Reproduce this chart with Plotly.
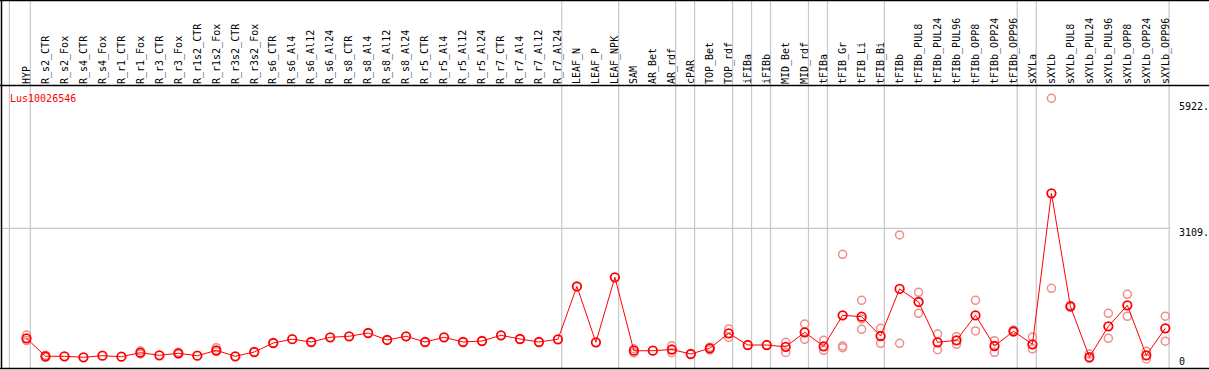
import plotly.graph_objects as go

# ---------------- data ----------------
categories = [
    "HYP", "R_s2_CTR", "R_s2_Fox", "R_s4_CTR", "R_s4_Fox", "R_r1_CTR", "R_r1_Fox",
    "R_r3_CTR", "R_r3_Fox", "R_r1s2_CTR", "R_r1s2_Fox", "R_r3s2_CTR", "R_r3s2_Fox",
    "R_s6_CTR", "R_s6_Al4", "R_s6_Al12", "R_s6_Al24", "R_s8_CTR", "R_s8_Al4",
    "R_s8_Al12", "R_s8_Al24", "R_r5_CTR", "R_r5_Al4", "R_r5_Al12", "R_r5_Al24",
    "R_r7_CTR", "R_r7_Al4", "R_r7_Al12", "R_r7_Al24", "LEAF_N", "LEAF_P", "LEAF_NPK",
    "SAM", "AR_Bet", "AR_rdf", "cPAR", "TOP_Bet", "TOP_rdf", "iFIBa", "iFIBb",
    "MID_Bet", "MID_rdf", "tFIBa", "tFIB_Gr", "tFIB_Li", "tFIB_Bi", "tFIBb",
    "tFIBb_PUL8", "tFIBb_PUL24", "tFIBb_PUL96", "tFIBb_OPP8", "tFIBb_OPP24",
    "tFIBb_OPP96", "sXYLa", "sXYLb", "sXYLb_PUL8", "sXYLb_PUL24", "sXYLb_PUL96",
    "sXYLb_OPP8", "sXYLb_OPP24", "sXYLb_OPP96",
]

mean_values = [
    640, 236, 236, 213, 249, 227, 317, 258, 303, 249, 370, 236, 332,
    534, 620, 557, 662, 685, 759, 602, 685, 557, 662, 557, 579,
    707, 624, 557, 617, 1803, 550, 2009,
    361, 361, 388, 287, 415, 752, 489, 489, 449, 775, 460,
    1156, 1125, 691, 1747, 1455, 550, 595, 1156, 467, 797,
    505, 3895, 1358, 216, 909, 1381, 258, 864,
]

rep_categories = [
    "HYP", "HYP", "R_s2_CTR", "R_s2_CTR", "R_r1_Fox", "R_r1_Fox", "R_r3_Fox", "R_r3_Fox",
    "R_r1s2_Fox", "R_r1s2_Fox", "SAM", "SAM", "AR_rdf", "AR_rdf", "TOP_Bet", "TOP_Bet",
    "TOP_rdf", "TOP_rdf", "MID_Bet", "MID_Bet", "MID_rdf", "MID_rdf", "tFIBa", "tFIBa",
    "tFIB_Gr", "tFIB_Gr", "tFIB_Gr", "tFIB_Li", "tFIB_Li", "tFIB_Li", "tFIB_Bi", "tFIB_Bi",
    "tFIBb", "tFIBb", "tFIBb_PUL8", "tFIBb_PUL8", "tFIBb_PUL24", "tFIBb_PUL24",
    "tFIBb_PUL96", "tFIBb_PUL96", "tFIBb_OPP8", "tFIBb_OPP8", "tFIBb_OPP24", "tFIBb_OPP24",
    "tFIBb_OPP96", "tFIBb_OPP96", "sXYLa", "sXYLa", "sXYLb", "sXYLb",
    "sXYLb_PUL8", "sXYLb_PUL8", "sXYLb_PUL24", "sXYLb_PUL24", "sXYLb_PUL96", "sXYLb_PUL96",
    "sXYLb_OPP8", "sXYLb_OPP8", "sXYLb_OPP24", "sXYLb_OPP24", "sXYLb_OPP96", "sXYLb_OPP96",
]
rep_values = [
    714, 590, 262, 212, 355, 287, 325, 287,
    429, 339, 405, 310, 474, 317, 440, 380,
    849, 658, 550, 321, 961, 617, 595, 370,
    2526, 467, 429, 1493, 1073, 842, 864, 528,
    2959, 528, 1673, 1201, 736, 384,
    676, 505, 1493, 804, 586, 326,
    826, 781, 669, 404, 6028, 1762,
    1376, 1342, 287, 191, 1201, 640,
    1628, 1134, 348, 175, 1136, 575,
]

group_last = ["HYP", "R_r7_Al24", "LEAF_NPK", "AR_rdf", "cPAR", "TOP_rdf", "iFIBa",
              "iFIBb", "MID_rdf", "tFIBa", "tFIB_Bi", "tFIBb_OPP96", "sXYLa", "sXYLb_OPP96"]

y_ticks = [0, 3109, 5922]
y_tick_labels = ["0", "3109.", "5922."]
gene_name = "Lus10026546"

# ---------------- geometry ----------------
W, H = 1209, 370
L, R, T, B = 1, 1, 85, 2
PW, PH = W - L - R, H - T - B

x0_px, dx_px = 26.5, 18.98
xmin = -(x0_px - L) / dx_px
xmax = xmin + PW / dx_px

s = (366.8 - 228.3) / 3109.0
ymin = -(H - B - 366.8) / s
ymax = ymin + PH / s


def pxx(px):
    return (px - L) / PW


def pxy(py):
    return (H - B - py) / PH


idx = {c: i for i, c in enumerate(categories)}
FONT = "DejaVu Sans Mono"

fig = go.Figure()

fig.add_trace(go.Scatter(
    x=[idx[c] for c in rep_categories], y=rep_values, mode="markers",
    marker=dict(symbol="circle-open", size=8, color="#f08c8c", line=dict(width=1.5, color="#f08c8c")),
    hoverinfo="skip", showlegend=False,
))
fig.add_trace(go.Scatter(
    x=list(range(len(categories))), y=mean_values, mode="lines+markers",
    line=dict(color="#ff0000", width=1),
    marker=dict(symbol="circle-open", size=8.5, color="#ff0000", line=dict(width=1.8, color="#ff0000")),
    showlegend=False,
))

shapes = []
sep_positions = [-0.9] + [idx[c] + 0.2 for c in group_last]
for xp in sep_positions:
    shapes.append(dict(type="line", xref="x", yref="paper", x0=xp, x1=xp,
                       y0=0, y1=pxy(0), line=dict(color="#c8c8c8", width=1.2), layer="below"))
shapes.append(dict(type="line", xref="paper", yref="y", x0=0, x1=pxx(1170.5),
                   y0=y_ticks[1], y1=y_ticks[1], line=dict(color="#c8c8c8", width=1.2), layer="below"))
for py in [0.5, 85.5, 368.5]:
    shapes.append(dict(type="line", xref="paper", yref="paper", x0=pxx(0), x1=pxx(W),
                       y0=pxy(py), y1=pxy(py), line=dict(color="black", width=1.5)))
shapes.append(dict(type="line", xref="paper", yref="paper", x0=pxx(1.5), x1=pxx(1.5),
                   y0=pxy(0), y1=pxy(369), line=dict(color="black", width=1.5)))

annotations = []
for v, t in zip(y_ticks, y_tick_labels):
    annotations.append(dict(xref="paper", yref="y", x=pxx(1177), y=v, text=t,
                            showarrow=False, xanchor="left", yanchor="middle",
                            yshift=-4 if v > 0 else 5,
                            font=dict(family=FONT, size=10, color="black")))
annotations.append(dict(xref="paper", yref="paper", x=pxx(8), y=pxy(98), text=gene_name,
                        showarrow=False, xanchor="left", yanchor="middle",
                        font=dict(family=FONT, size=10, color="#ff0000")))

fig.update_layout(
    width=W, height=H,
    margin=dict(l=L, r=R, t=T, b=B, pad=0),
    paper_bgcolor="white", plot_bgcolor="white",
    shapes=shapes, annotations=annotations,
    xaxis=dict(range=[xmin, xmax], side="top", tickmode="array",
               tickvals=list(range(len(categories))), ticktext=categories,
               tickangle=-90, showgrid=False, zeroline=False, showline=False,
               ticks="", tickfont=dict(family=FONT, size=10, color="black")),
    yaxis=dict(range=[ymin, ymax], showgrid=False, zeroline=False, showline=False,
               showticklabels=False, ticks=""),
    showlegend=False,
)

fig.write_html("out.html", config={"displayModeBar": False},
               post_script="document.body.style.margin='0';document.body.style.padding='0';")
